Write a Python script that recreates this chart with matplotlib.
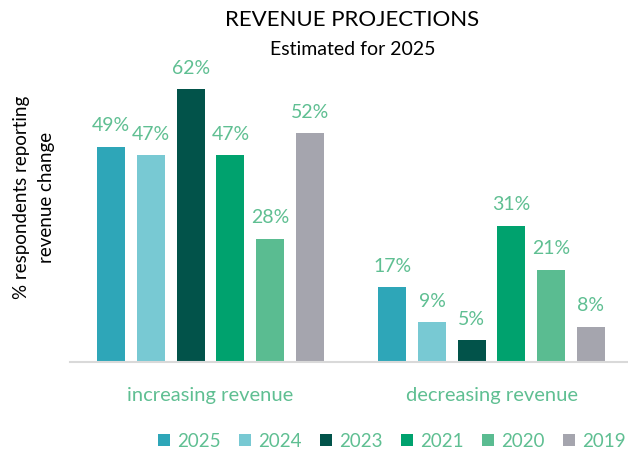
import matplotlib
matplotlib.use('Agg')
from matplotlib import pyplot
import numpy as np

categories = ['increasing revenue', 'decreasing revenue']
years = ['2025', '2024', '2023', '2021', '2020', '2019']
values = {
    '2025': [49, 17],
    '2024': [47, 9],
    '2023': [62, 5],
    '2021': [47, 31],
    '2020': [28, 21],
    '2019': [52, 8],
}
colors = ['#2ea6b8', '#78c9d3', '#02534a', '#00a26e', '#5abc91', '#a5a5ae']
label_color = '#5fbf92'

pyplot.rcParams['font.family'] = ['Lato', 'DejaVu Sans']

fig = pyplot.figure(figsize=(6.28, 4.54), dpi=100)
ax = fig.add_axes([70/628, 92/454, 562/628, 299/454])

x = np.arange(len(categories))
step = 0.1413
width = 0.0996
for i, yr in enumerate(years):
    pos = x + (i - 2.5) * step
    bars = ax.bar(pos, values[yr], width=width, color=colors[i], label=yr)
    for b, v in zip(bars, values[yr]):
        ax.annotate('%d%%' % v, (b.get_x() + b.get_width()/2, v),
                    xytext=(0, 9), textcoords='offset points',
                    ha='center', va='bottom', fontsize=14, color=label_color)

ax.set_xlim(-0.5, 1.5)
ax.set_ylim(0, 68)
ax.set_yticks([])
ax.set_xticks(x)
ax.set_xticklabels(categories, fontsize=14.5, color=label_color)
ax.tick_params(axis='x', length=0, pad=18)
for s in ['top', 'right', 'left']:
    ax.spines[s].set_visible(False)
ax.spines['bottom'].set_color('#d9d9d9')
ax.spines['bottom'].set_linewidth(1.5)

fig.text(0.054, 0.565, '% respondents reporting\nrevenue change', rotation=90,
         ha='center', va='center', fontsize=13.5, color='black', linespacing=1.55)

fig.text(0.56, 0.955, 'REVENUE PROJECTIONS', ha='center', va='center', fontsize=16)
fig.text(0.562, 0.891, 'Estimated for 2025', ha='center', va='center', fontsize=14)

leg = fig.legend(loc='center', bbox_to_anchor=(0.624, 0.028), ncol=6, frameon=False,
                 fontsize=13.5, handlelength=0.65, handleheight=0.65, handletextpad=0.4,
                 columnspacing=0.95)
for t in leg.get_texts():
    t.set_color(label_color)

fig.savefig('out.png', dpi=100)
